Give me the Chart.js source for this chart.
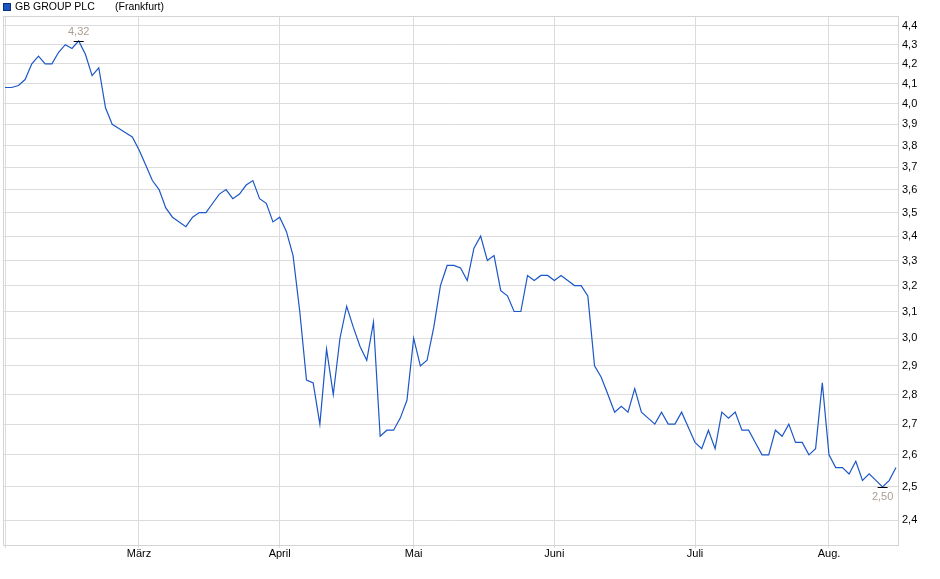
<!DOCTYPE html>
<html>
<head>
<meta charset="utf-8">
<script src="https://cdn.jsdelivr.net/npm/chart.js@4.4.1/dist/chart.umd.min.js"></script>
<style>
    html, body { margin: 0; padding: 0; background: #fff; }
    #wrap { position: relative; width: 940px; height: 579px; }
    #legend { position: absolute; left: 3px; top: 0; font: 10.5px "Liberation Sans", Arial, sans-serif; color: #000; white-space: nowrap; }
    #legend .box { position: absolute; left: 0; top: 3px; width: 6px; height: 6px; background: #1c55c0; border: 1px solid #0b2f78; }
    #legend .name { position: absolute; left: 12px; top: 0; line-height: 12px; }
    #legend .place { position: absolute; left: 112px; top: 0; line-height: 12px; }
</style>
</head>
<body>
<div id="wrap">
    <canvas id="chart" width="940" height="579"></canvas>
    <div id="legend">
        <span class="box"></span>
        <span class="name">GB GROUP PLC</span>
        <span class="place">(Frankfurt)</span>
    </div>
</div>
<script>
// daily closing prices (Frankfurt), one per trading day
const prices = [
    4.08, 4.08, 4.09, 4.12, 4.20, 4.24, 4.20, 4.20, 4.26, 4.30,
    4.28, 4.32, 4.25, 4.14, 4.18, 3.98, 3.90, 3.88, 3.86, 3.84,
    3.78, 3.71, 3.64, 3.60, 3.52, 3.48, 3.46, 3.44, 3.48, 3.50,
    3.50, 3.54, 3.58, 3.60, 3.56, 3.58, 3.62, 3.64, 3.56, 3.54,
    3.46, 3.48, 3.42, 3.32, 3.10, 2.85, 2.84, 2.70, 2.96, 2.80,
    3.00, 3.12, 3.04, 2.97, 2.92, 3.06, 2.66, 2.68, 2.68, 2.72,
    2.78, 3.00, 2.90, 2.92, 3.04, 3.20, 3.28, 3.28, 3.27, 3.22,
    3.35, 3.40, 3.30, 3.32, 3.18, 3.16, 3.10, 3.10, 3.24, 3.22,
    3.24, 3.24, 3.22, 3.24, 3.22, 3.20, 3.20, 3.16, 2.90, 2.86,
    2.80, 2.74, 2.76, 2.74, 2.82, 2.74, 2.72, 2.70, 2.74, 2.70,
    2.70, 2.74, 2.69, 2.64, 2.62, 2.68, 2.62, 2.74, 2.72, 2.74,
    2.68, 2.68, 2.64, 2.60, 2.60, 2.68, 2.66, 2.70, 2.64, 2.64,
    2.60, 2.62, 2.84, 2.60, 2.56, 2.56, 2.54, 2.58, 2.52, 2.54,
    2.52, 2.50, 2.52, 2.56
];

// first trading day of each month (index into prices) and its label
const monthStarts = [0, 20, 41, 61, 82, 103, 123];
const monthLabels = ['', 'März', 'April', 'Mai', 'Juni', 'Juli', 'Aug.'];

// price axis ticks
const priceTicks = [2.4, 2.5, 2.6, 2.7, 2.8, 2.9, 3.0, 3.1, 3.2, 3.3, 3.4, 3.5, 3.6, 3.7, 3.8, 3.9, 4.0, 4.1, 4.2, 4.3, 4.4];

const fmt = v => v.toFixed(1).replace('.', ',');
const fmt2 = v => v.toFixed(2).replace('.', ',');

// 📦 border round the plot area
const frame = {
    id: 'frame',
    beforeDatasetsDraw(chart) {
        const { ctx, chartArea: a } = chart;
        ctx.save();
        ctx.strokeStyle = '#d4d4d4';
        ctx.lineWidth = 1;
        ctx.strokeRect(Math.round(a.left) + 0.5, Math.round(a.top) + 0.5,
            Math.round(a.right - a.left), Math.round(a.bottom - a.top));
        ctx.restore();
    }
};

// 🔺 high / low markers
const extremes = {
    id: 'extremes',
    afterDatasetsDraw(chart) {
        const { ctx, scales } = chart;
        const hi = prices.indexOf(Math.max(...prices));
        const lo = prices.lastIndexOf(Math.min(...prices));
        ctx.save();
        ctx.font = '11px "Liberation Sans", Arial, sans-serif';
        ctx.textAlign = 'center';
        ctx.fillStyle = '#ab9e93';
        ctx.strokeStyle = '#000';
        ctx.lineWidth = 1;

        [[hi, -1], [lo, 1]].forEach(([i, dir]) => {
            const x = scales.x.getPixelForValue(i);
            const y = Math.round(scales.y.getPixelForValue(prices[i])) + 0.5;
            ctx.beginPath();
            ctx.moveTo(x - 5, y);
            ctx.lineTo(x + 5, y);
            ctx.stroke();
            ctx.textBaseline = dir < 0 ? 'bottom' : 'top';
            ctx.fillText(fmt2(prices[i]), x, y + dir * 4);
        });
        ctx.restore();
    }
};

const ctx = document.getElementById('chart').getContext('2d');

new Chart(ctx, {
    type: 'line',
    data: {
        datasets: [{
            label: 'GB GROUP PLC',
            data: prices.map((v, i) => ({ x: i, y: v })),
            borderColor: '#1b57c6',
            borderWidth: 1.2,
            pointRadius: 0,
            tension: 0,
            fill: false
        }]
    },
    options: {
        responsive: false,
        animation: false,
        devicePixelRatio: 1,
        layout: { padding: { top: 16, left: 3, right: 0, bottom: 0 } },
        plugins: {
            legend: { display: false },
            tooltip: { enabled: false }
        },
        scales: {
            x: {
                type: 'linear',
                min: -0.3,
                max: 133.3,
                afterBuildTicks: s => { s.ticks = monthStarts.map(v => ({ value: v })); },
                afterFit: s => { s.height = 34; },
                ticks: {
                    autoSkip: false,
                    maxRotation: 0,
                    padding: -1,
                    color: '#000',
                    font: { family: '"Liberation Sans", Arial, sans-serif', size: 11 },
                    callback: v => monthLabels[monthStarts.indexOf(v)] ?? ''
                },
                grid: { color: '#dcdcdc', tickLength: 3, tickColor: '#dcdcdc' },
                border: { color: '#d4d4d4' }
            },
            y: {
                type: 'logarithmic',
                position: 'right',
                min: 2.328,
                max: 4.454,
                afterBuildTicks: s => { s.ticks = priceTicks.map(v => ({ value: v })); },
                afterFit: s => { s.width = 42; },
                ticks: {
                    autoSkip: false,
                    padding: 4,
                    color: '#000',
                    font: { family: '"Liberation Sans", Arial, sans-serif', size: 11 },
                    callback: v => fmt(v)
                },
                grid: { color: '#dcdcdc', drawTicks: false },
                border: { color: '#d4d4d4' }
            }
        }
    },
    plugins: [frame, extremes]
});
</script>
</body>
</html>
